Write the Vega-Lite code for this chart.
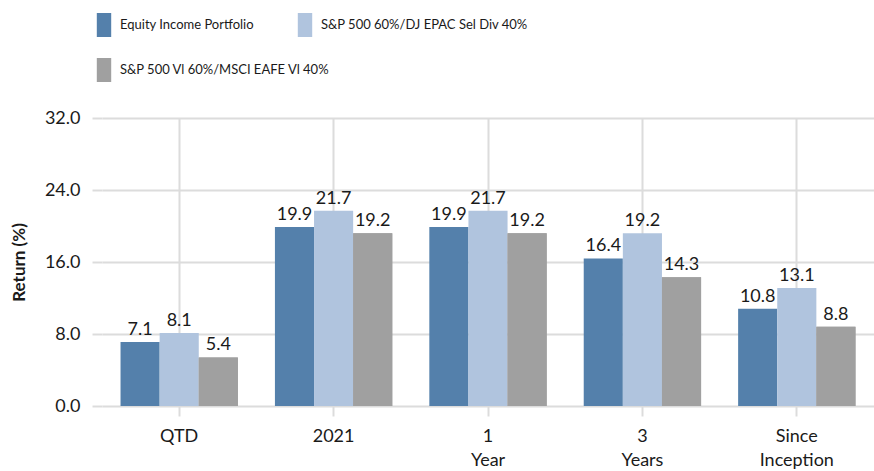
{
  "$schema": "https://vega.github.io/schema/vega-lite/v6.json",
  "width": 772,
  "height": 288,
  "autosize": {"type": "none"},
  "padding": {"left": 102, "top": 118, "right": 0, "bottom": 65},
  "background": "white",
  "config": {
    "font": "Lato",
    "view": {"stroke": null},
    "legend": {
      "title": null,
      "orient": "none",
      "symbolType": "M-0.6,-1H0.6V1H-0.6Z",
      "symbolSize": 576,
      "symbolStrokeWidth": 0,
      "symbolOpacity": 1,
      "labelFontSize": 13,
      "labelColor": "#1a1a1a",
      "labelOffset": 4,
      "labelLimit": 400
    }
  },
  "data": {
    "values": [
      {"period": "QTD", "series": "Equity Income Portfolio", "value": 7.1},
      {"period": "QTD", "series": "S&P 500 60%/DJ EPAC Sel Div 40%", "value": 8.1},
      {"period": "QTD", "series": "S&P 500 Vl  60%/MSCI EAFE Vl 40%", "value": 5.4},
      {"period": "2021", "series": "Equity Income Portfolio", "value": 19.9},
      {"period": "2021", "series": "S&P 500 60%/DJ EPAC Sel Div 40%", "value": 21.7},
      {"period": "2021", "series": "S&P 500 Vl  60%/MSCI EAFE Vl 40%", "value": 19.2},
      {"period": "1 Year", "series": "Equity Income Portfolio", "value": 19.9},
      {"period": "1 Year", "series": "S&P 500 60%/DJ EPAC Sel Div 40%", "value": 21.7},
      {"period": "1 Year", "series": "S&P 500 Vl  60%/MSCI EAFE Vl 40%", "value": 19.2},
      {"period": "3 Years", "series": "Equity Income Portfolio", "value": 16.4},
      {"period": "3 Years", "series": "S&P 500 60%/DJ EPAC Sel Div 40%", "value": 19.2},
      {"period": "3 Years", "series": "S&P 500 Vl  60%/MSCI EAFE Vl 40%", "value": 14.3},
      {"period": "Since Inception", "series": "Equity Income Portfolio", "value": 10.8},
      {"period": "Since Inception", "series": "S&P 500 60%/DJ EPAC Sel Div 40%", "value": 13.1},
      {"period": "Since Inception", "series": "S&P 500 Vl  60%/MSCI EAFE Vl 40%", "value": 8.8}
    ]
  },
  "encoding": {
    "x": {
      "field": "period",
      "type": "nominal",
      "sort": ["QTD", "2021", "1 Year", "3 Years", "Since Inception"],
      "scale": {"paddingInner": 0.24, "paddingOuter": 0.12},
      "axis": {
        "title": null,
        "labelAngle": 0,
        "labelExpr": "split(datum.value, ' ')",
        "labelFontSize": 18,
        "labelColor": "#1a1a1a",
        "labelLineHeight": 24,
        "labelPadding": 11,
        "domain": false,
        "grid": true,
        "gridColor": "#dcdcdc",
        "gridWidth": 2,
        "bandPosition": 0.5,
        "tickColor": "#dcdcdc",
        "tickWidth": 2,
        "tickSize": 10
      }
    },
    "xOffset": {
      "field": "series",
      "type": "nominal",
      "sort": ["Equity Income Portfolio", "S&P 500 60%/DJ EPAC Sel Div 40%", "S&P 500 Vl  60%/MSCI EAFE Vl 40%"]
    },
    "y": {
      "field": "value",
      "type": "quantitative",
      "scale": {"domain": [0, 32]},
      "axis": {
        "title": "Return (%)",
        "titleFontSize": 17,
        "titleFontWeight": "bold",
        "titleColor": "#1a1a1a",
        "titlePadding": 16,
        "values": [0, 8, 16, 24, 32],
        "format": ".1f",
        "labelFontSize": 18,
        "labelColor": "#1a1a1a",
        "labelPadding": 12,
        "domain": false,
        "gridColor": "#dcdcdc",
        "gridWidth": 2,
        "tickColor": "#dcdcdc",
        "tickWidth": 2,
        "tickSize": 10
      }
    }
  },
  "layer": [
    {
      "mark": {"type": "bar"},
      "encoding": {
        "color": {
          "field": "series",
          "type": "nominal",
          "scale": {
            "domain": ["Equity Income Portfolio", "S&P 500 60%/DJ EPAC Sel Div 40%", "S&P 500 Vl  60%/MSCI EAFE Vl 40%"],
            "range": ["#5480ab", "#b0c4de", "#a0a0a0"]
          },
          "legend": {
            "values": ["Equity Income Portfolio", "S&P 500 60%/DJ EPAC Sel Div 40%"],
            "direction": "horizontal",
            "legendX": -10,
            "legendY": -105,
            "columnPadding": 39
          }
        }
      }
    },
    {
      "transform": [{"filter": "datum.series === 'S&P 500 Vl  60%/MSCI EAFE Vl 40%'"}],
      "mark": {"type": "bar"},
      "encoding": {
        "color": {
          "field": "series",
          "type": "nominal",
          "scale": {
            "domain": ["S&P 500 Vl  60%/MSCI EAFE Vl 40%"],
            "range": ["#a0a0a0"]
          },
          "legend": {
            "direction": "horizontal",
            "legendX": -10,
            "legendY": -60
          }
        }
      }
    },
    {
      "mark": {"type": "text", "baseline": "bottom", "dy": -3, "fontSize": 18, "color": "#1a1a1a"},
      "encoding": {
        "text": {"field": "value", "type": "quantitative", "format": ".1f"}
      }
    }
  ],
  "resolve": {"scale": {"color": "independent"}, "legend": {"color": "independent"}}
}
